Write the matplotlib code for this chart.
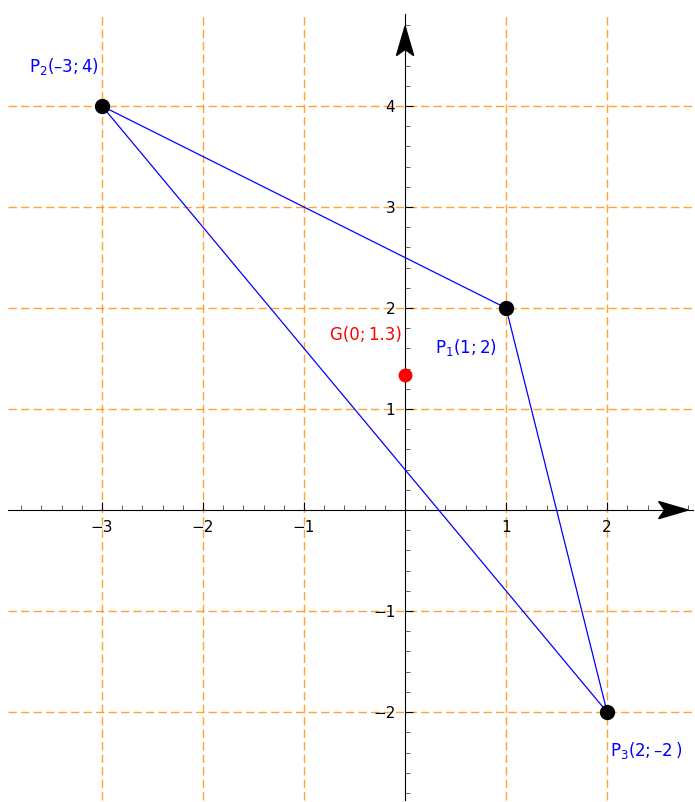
import numpy as np
import matplotlib.pyplot as plt
from matplotlib.patches import Polygon

# triangle vertices
px = [1, -3, 2]
py = [2, 4, -2]
label_x = [0.60, -3.38, 2.39]
label_y = [1.61, 4.39, -2.38]
label_txt = ["P$_1$(1;\u20092)", "P$_2$(\u20133;\u20094)", "P$_3$(2;\u2009\u20132\u2009)"]

# centroid
gx = np.mean(px)
gy = np.mean(py)
g_txt = "G(0;\u20091.3)"

grid_x = [-3, -2, -1, 1, 2]
grid_y = [-2, -1, 1, 2, 3, 4]

xlim = (-4.01, 2.87)
ylim = (-2.89, 5.05)
xspan = (-3.93, 2.85)
yspan = (-2.87, 4.91)

plt.rcParams['mathtext.fontset'] = 'dejavusans'
plt.rcParams['axes.unicode_minus'] = True

fig = plt.figure(figsize=(6.95, 8.02), dpi=100)
ax = fig.add_axes([0, 0, 1, 1])
ax.set_xlim(*xlim)
ax.set_ylim(*ylim)

# dashed orange grid
for g in grid_x:
    ax.plot([g, g], yspan, color='#ff8c00', alpha=0.8, lw=1, ls=(0, (6, 3)), zorder=1)
for g in grid_y:
    ax.plot(xspan, [g, g], color='#ff8c00', alpha=0.8, lw=1, ls=(0, (6, 3)), zorder=1)

# axes through origin
for s in ['top', 'right']:
    ax.spines[s].set_visible(False)
ax.spines['left'].set_position('zero')
ax.spines['bottom'].set_position('zero')
ax.spines['bottom'].set_bounds(*xspan)
ax.spines['left'].set_bounds(*yspan)
ax.spines['left'].set_zorder(2)
ax.spines['bottom'].set_zorder(2)

xt = [-3, -2, -1, 1, 2]
yt = [-2, -1, 1, 2, 3, 4]
ax.set_xticks(xt)
ax.set_xticklabels([f"{v:d}".replace('-', '\u2212') for v in xt])
ax.set_yticks(yt)
ax.set_yticklabels([f"{v:d}".replace('-', '\u2212') for v in yt])
ax.set_xticks(np.arange(-3.8, 2.81, 0.2), minor=True)
ax.set_yticks(np.arange(-2.8, 4.81, 0.2), minor=True)
ax.tick_params(which='major', direction='in', length=6, width=0.8, labelsize=11, pad=7)
ax.tick_params(which='minor', direction='in', length=3.5, width=0.6, color='#444444')

# arrow heads
def arrow_head(tip, axis, length=0.29, half=0.085, notch=0.06):
    tx, ty = tip
    if axis == 'x':
        pts = [(tx, ty), (tx - length, ty + half), (tx - length + notch, ty), (tx - length, ty - half)]
    else:
        pts = [(tx, ty), (tx - half, ty - length), (tx, ty - length + notch), (tx + half, ty - length)]
    ax.add_patch(Polygon(pts, closed=True, color='black', zorder=3))

arrow_head((2.80, 0), 'x')
arrow_head((0, 4.79), 'y')

# triangle
tx = px + [px[0]]
ty = py + [py[0]]
ax.plot(tx, ty, color='blue', lw=0.9, zorder=4)
ax.plot(px, py, 'o', color='black', ms=10, zorder=5)
ax.plot([gx], [gy], 'o', color='red', ms=9, zorder=5)

for x, y, t in zip(label_x, label_y, label_txt):
    ax.text(x, y, t, color='blue', fontsize=12, ha='center', va='center')
ax.text(-0.39, 1.73, g_txt, color='red', fontsize=12, ha='center', va='center')

fig.savefig('out.png', dpi=100)
